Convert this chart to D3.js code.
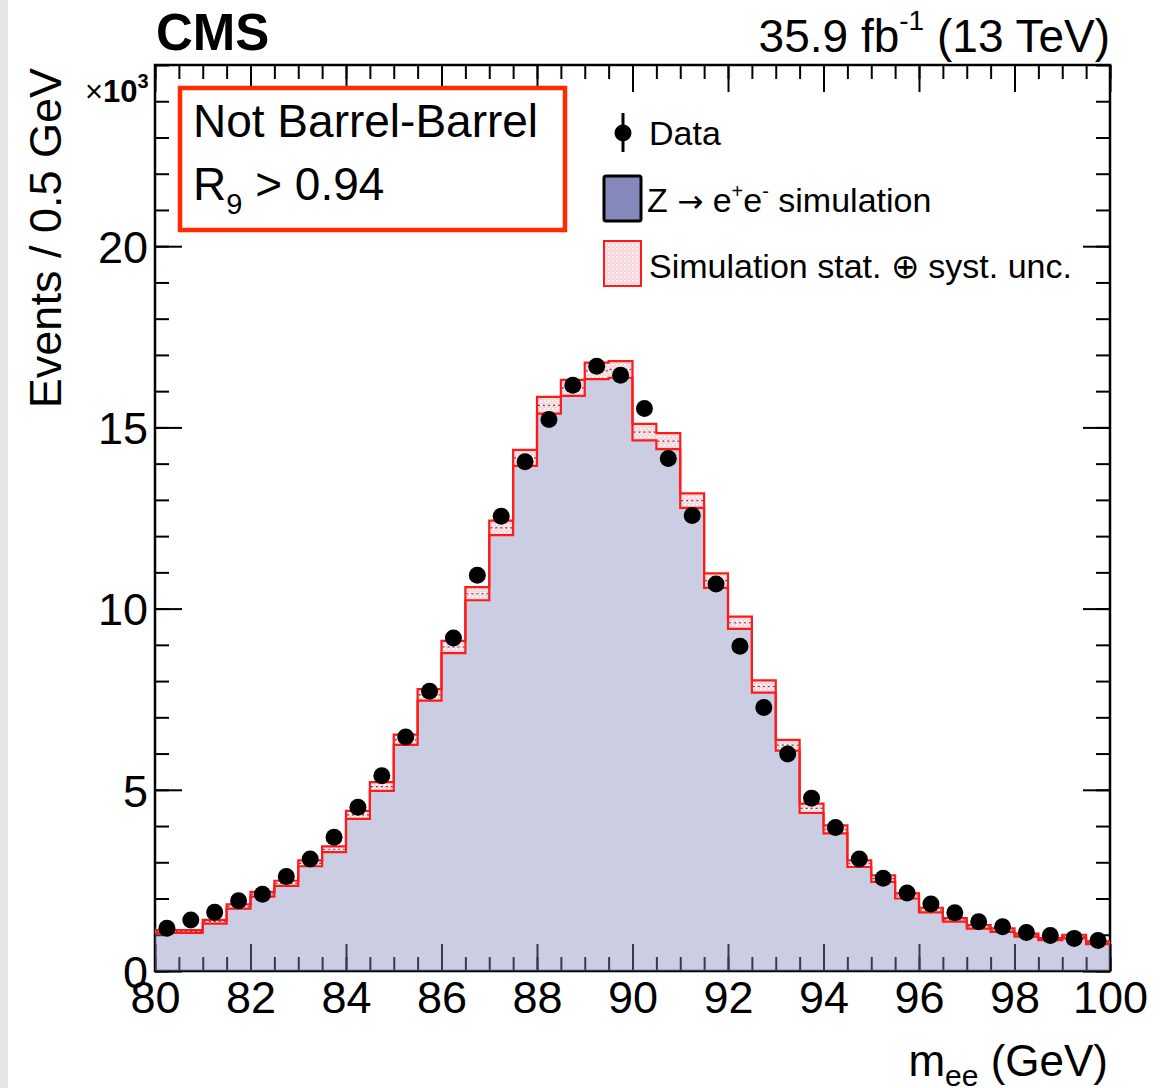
<!DOCTYPE html>
<html><head><meta charset="utf-8">
<script src="https://cdn.jsdelivr.net/npm/d3@7"></script>
<style>
body{margin:0;background:#fff}
svg{display:block}
text{font-family:"Liberation Sans",Arial,Helvetica,sans-serif;fill:#000}
</style>
</head><body>
<svg id="c" width="1170" height="1088"></svg>
<script>
// ---- data (values in units of 10^3 events per 0.5 GeV) ----
const binLow = [80,80.5,81,81.5,82,82.5,83,83.5,84,84.5,85,85.5,86,86.5,87,87.5,88,88.5,89,89.5,
                90,90.5,91,91.5,92,92.5,93,93.5,94,94.5,95,95.5,96,96.5,97,97.5,98,98.5,99,99.5];
const binWidth = 0.5;
const mcValues = [1.09,1.09,1.36,1.78,2.12,2.42,2.97,3.36,4.31,5.09,6.38,7.62,8.94,10.41,12.23,14.16,15.61,16.09,16.56,16.60,
                  14.87,14.62,12.98,10.77,9.61,7.85,6.23,4.49,3.91,2.96,2.55,2.07,1.68,1.41,1.22,1.13,0.99,0.88,0.95,0.78];
const mcUnc = [0.04,0.04,0.05,0.06,0.065,0.07,0.08,0.08,0.11,0.12,0.14,0.16,0.17,0.18,0.20,0.22,0.23,0.22,0.23,0.23,
               0.23,0.22,0.20,0.20,0.17,0.17,0.15,0.13,0.11,0.09,0.09,0.07,0.065,0.05,0.05,0.05,0.04,0.03,0.05,0.04];
const dataValues = [1.18,1.41,1.62,1.94,2.12,2.61,3.09,3.69,4.52,5.39,6.46,7.72,9.19,10.92,12.55,14.05,15.22,16.16,16.69,16.44,
                    15.52,14.14,12.57,10.68,8.96,7.27,5.99,4.77,3.96,3.09,2.56,2.15,1.85,1.61,1.36,1.22,1.06,0.98,0.90,0.84];
const dataErr = [0.03,0.04,0.04,0.04,0.05,0.05,0.06,0.06,0.07,0.07,0.08,0.09,0.10,0.10,0.11,0.12,0.12,0.13,0.13,0.13,
                 0.12,0.12,0.11,0.10,0.09,0.09,0.08,0.07,0.06,0.06,0.05,0.05,0.04,0.04,0.04,0.03,0.03,0.03,0.03,0.03];
const xMajorTicks = [80,82,84,86,88,90,92,94,96,98,100];
const yMajorTicks = [0,5,10,15,20];
const xDomain = [80,100];
const yDomain = [0,25];

// ---- setup ----
const svg = d3.select("#c");
const x = d3.scaleLinear().domain(xDomain).range([155,1110]);
const y = d3.scaleLinear().domain(yDomain).range([971,65]);

svg.append("rect").attr("x",0).attr("y",0).attr("width",1170).attr("height",1088).attr("fill","#fff");
svg.append("rect").attr("x",0).attr("y",0).attr("width",8).attr("height",1088).attr("fill","#e6e6e6");

const defs = svg.append("defs");
const pat = defs.append("pattern").attr("id","dots").attr("width",4).attr("height",4).attr("patternUnits","userSpaceOnUse");
pat.append("rect").attr("width",4).attr("height",4).attr("fill","#f8d6dc");
pat.append("rect").attr("x",0).attr("y",0).attr("width",1.6).attr("height",1.6).attr("fill","#ffffff");
pat.append("rect").attr("x",2).attr("y",2).attr("width",1.2).attr("height",1.2).attr("fill","#fdeef0");

// ---- axes / ticks (drawn first, fill drawn semi-transparent on top like ROOT) ----
const minorX = d3.range(80,100.001,0.5);
const minorY = d3.range(0,25.001,1);
const MAJ = 27, MIN = 14;
function styleAxis(g){ g.select(".domain").remove(); g.selectAll("line").attr("stroke","#000").attr("stroke-width",2); }

svg.append("g").attr("transform","translate(0,971)")
  .call(d3.axisBottom(x).tickValues(minorX).tickSize(-MIN).tickFormat("")).call(styleAxis);
const xb = svg.append("g").attr("transform","translate(0,971)")
  .call(d3.axisBottom(x).tickValues(xMajorTicks).tickSize(-MAJ).tickPadding(0).tickFormat(d3.format("d")));
styleAxis(xb);
xb.selectAll("text").attr("y",42).attr("dy",0).attr("font-size",45).attr("fill","#000")
  .style("font-family",'"Liberation Sans",Arial,sans-serif');

svg.append("g").attr("transform","translate(0,65)")
  .call(d3.axisTop(x).tickValues(minorX).tickSize(-MIN).tickFormat("")).call(styleAxis);
svg.append("g").attr("transform","translate(0,65)")
  .call(d3.axisTop(x).tickValues(xMajorTicks).tickSize(-MAJ).tickFormat("")).call(styleAxis);

svg.append("g").attr("transform","translate(155,0)")
  .call(d3.axisLeft(y).tickValues(minorY).tickSize(-MIN).tickFormat("")).call(styleAxis);
const yl = svg.append("g").attr("transform","translate(155,0)")
  .call(d3.axisLeft(y).tickValues(yMajorTicks).tickSize(-MAJ).tickPadding(0).tickFormat(d3.format("d")));
styleAxis(yl);
yl.selectAll("text").attr("x",-7).attr("dy","0.36em").attr("font-size",45).attr("fill","#000")
  .style("font-family",'"Liberation Sans",Arial,sans-serif');

svg.append("g").attr("transform","translate(1110,0)")
  .call(d3.axisRight(y).tickValues(minorY).tickSize(-MIN).tickFormat("")).call(styleAxis);
svg.append("g").attr("transform","translate(1110,0)")
  .call(d3.axisRight(y).tickValues(yMajorTicks).tickSize(-MAJ).tickFormat("")).call(styleAxis);

// frame
svg.append("rect").attr("x",x(80)).attr("y",y(25)).attr("width",x(100)-x(80)).attr("height",y(0)-y(25))
  .attr("fill","none").attr("stroke","#000").attr("stroke-width",2.5);

// ---- MC histogram fill ----
const stepPts = binLow.map((b,i)=>[b,mcValues[i]]).concat([[binLow[binLow.length-1]+binWidth, mcValues[mcValues.length-1]]]);
svg.append("path").datum(stepPts)
  .attr("d", d3.area().x(d=>x(d[0])).y0(y(0)).y1(d=>y(d[1])).curve(d3.curveStepAfter))
  .attr("fill","#8488bb").attr("fill-opacity",0.42);

// ---- uncertainty band ----
const band = svg.append("g");
band.selectAll("rect.unc").data(binLow).join("rect").attr("class","unc")
  .attr("x",d=>x(d)).attr("width",d=>x(d+binWidth)-x(d))
  .attr("y",(d,i)=>y(mcValues[i]+mcUnc[i])).attr("height",(d,i)=>y(mcValues[i]-mcUnc[i])-y(mcValues[i]+mcUnc[i]))
  .attr("fill","url(#dots)");
band.selectAll("line.cen").data(binLow).join("line").attr("class","cen")
  .attr("x1",d=>x(d)+1).attr("x2",d=>x(d+binWidth)-1)
  .attr("y1",(d,i)=>y(mcValues[i])).attr("y2",(d,i)=>y(mcValues[i]))
  .attr("stroke","#000").attr("stroke-width",1.2).attr("stroke-dasharray","2,3").attr("opacity",0.65);
const upPts = binLow.map((b,i)=>[b,mcValues[i]+mcUnc[i]]).concat([[100, mcValues[39]+mcUnc[39]]]);
const dnPts = binLow.map((b,i)=>[b,mcValues[i]-mcUnc[i]]).concat([[100, mcValues[39]-mcUnc[39]]]);
const stepLine = d3.line().x(d=>x(d[0])).y(d=>y(d[1])).curve(d3.curveStepAfter);
[upPts,dnPts].forEach(p=>{
  band.append("path").datum(p).attr("d",stepLine).attr("fill","none").attr("stroke","#ff1a1a").attr("stroke-width",2.2);
});

// ---- data points ----
const dg = svg.append("g");
dg.selectAll("line").data(binLow).join("line")
  .attr("x1",d=>x(d+binWidth/2)).attr("x2",d=>x(d+binWidth/2))
  .attr("y1",(d,i)=>y(dataValues[i]+dataErr[i])).attr("y2",(d,i)=>y(dataValues[i]-dataErr[i]))
  .attr("stroke","#000").attr("stroke-width",2.5);
dg.selectAll("circle").data(binLow).join("circle")
  .attr("cx",d=>x(d+binWidth/2)).attr("cy",(d,i)=>y(dataValues[i])).attr("r",8.5).attr("fill","#000");

// ---- texts ----
svg.append("text").attr("x",156).attr("y",50).attr("font-size",51).attr("font-weight","bold").text("CMS");
const lumi = svg.append("text").attr("x",1110).attr("y",52).attr("font-size",46).attr("text-anchor","end");
lumi.append("tspan").text("35.9 fb");
lumi.append("tspan").attr("font-size",28).attr("dy",-22).text("-1");
lumi.append("tspan").attr("dy",22).text(" (13 TeV)");

svg.append("text").attr("transform","translate(61,68) rotate(-90)").attr("text-anchor","end")
  .attr("font-size",45).text("Events / 0.5 GeV");

const mult = svg.append("text").attr("x",85).attr("y",102).attr("font-size",31);
mult.append("tspan").text("\u00d7");
mult.append("tspan").attr("font-weight","bold").text("10");
mult.append("tspan").attr("font-size",20).attr("font-weight","bold").attr("dy",-14).text("3");

const xt = svg.append("text").attr("x",1108).attr("y",1076).attr("font-size",44).attr("text-anchor","end");
xt.append("tspan").text("m");
xt.append("tspan").attr("font-size",30).attr("dy",10).text("ee");
xt.append("tspan").attr("dy",-10).text(" (GeV)");

// region box
svg.append("rect").attr("x",180).attr("y",88).attr("width",385).attr("height",142)
  .attr("fill","#fff").attr("stroke","#ff2a00").attr("stroke-width",4.5);
svg.append("text").attr("x",193).attr("y",137).attr("font-size",46).text("Not Barrel-Barrel");
const r9 = svg.append("text").attr("x",193).attr("y",200).attr("font-size",46);
r9.append("tspan").text("R");
r9.append("tspan").attr("font-size",29).attr("dy",14).text("9");
r9.append("tspan").attr("dy",-14).text(" > 0.94");

// ---- legend ----
const lg = svg.append("g");
lg.append("line").attr("x1",623).attr("x2",623).attr("y1",113).attr("y2",152).attr("stroke","#000").attr("stroke-width",3);
lg.append("circle").attr("cx",623).attr("cy",133).attr("r",8.5).attr("fill","#000");
lg.append("text").attr("x",649).attr("y",145).attr("font-size",34).text("Data");
lg.append("rect").attr("x",604).attr("y",176).attr("width",37).attr("height",45)
  .attr("fill","#8488bb").attr("stroke","#000").attr("stroke-width",3).attr("rx",2);
const zl = lg.append("text").attr("x",647).attr("y",212).attr("font-size",34);
zl.append("tspan").text("Z ");
zl.append("tspan").style("font-family",'"DejaVu Sans",sans-serif').attr("font-size",31).text("\u2192");
zl.append("tspan").text(" e");
zl.append("tspan").attr("font-size",20).attr("dy",-14).text("+");
zl.append("tspan").attr("dy",14).text("e");
zl.append("tspan").attr("font-size",20).attr("dy",-14).text("-");
zl.append("tspan").attr("dy",14).text(" simulation");
lg.append("rect").attr("x",604).attr("y",241).attr("width",37).attr("height",45)
  .attr("fill","url(#dots)").attr("stroke","#ff1a1a").attr("stroke-width",2);
lg.append("text").attr("x",649).attr("y",278).attr("font-size",34).text("Simulation stat. \u2295 syst. unc.");
</script>
</body></html>
